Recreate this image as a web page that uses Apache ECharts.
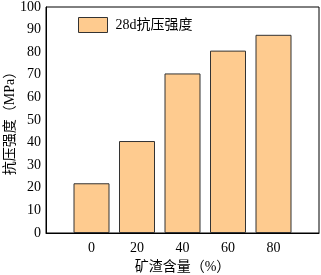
<!DOCTYPE html>
<html><head><meta charset="utf-8">
<script src="https://cdn.jsdelivr.net/npm/echarts@6/dist/echarts.min.js"></script>
<style>html,body{margin:0;padding:0;background:#fff}#c{width:321px;height:275px}</style>
</head><body><div id="c"></div>
<script>
const slagContent = [0, 20, 40, 60, 80];
const strength28d = [22, 40.7, 70.6, 80.7, 87.7];
const seriesName = '28d抗压强度';
const xTitle = '矿渣含量（%）';
const yTitle = '抗压强度（MPa）';
const fontFam = '"Liberation Serif", "Noto Sans CJK SC", serif';

const chart = echarts.init(document.getElementById('c'), null, {renderer: 'canvas'});
chart.setOption({
  animation: false,
  grid: {left: 46, right: 2, top: 7, bottom: 42, show: true, borderColor: '#000', borderWidth: 1,
    containLabel: false, outerBoundsMode: 'none'},
  legend: {
    left: 74, top: 17, itemWidth: 29, itemHeight: 15, padding: [0,0,0,4],
    textStyle: {fontFamily: fontFam, fontSize: 14, color: '#000', padding: [0,0,0,3]},
    data: [{name: seriesName, icon: 'rect', itemStyle: {color: '#FECB8F', borderColor: '#333', borderWidth: 1}}]
  },
  xAxis: {
    type: 'value', min: -20, max: 100, interval: 20,
    splitLine: {show: false},
    axisTick: {show: false},
    axisLine: {show: true, onZero: false, lineStyle: {color: '#000', width: 1}},
    axisLabel: {fontFamily: fontFam, fontSize: 14, color: '#000', margin: 8,
      formatter: v => (slagContent.indexOf(v) >= 0 ? String(v) : '')},
    name: xTitle, nameLocation: 'middle', nameGap: 27, nameMoveOverlap: false,
    nameTextStyle: {fontFamily: fontFam, fontSize: 14, color: '#000'}
  },
  yAxis: {
    type: 'value', min: 0, max: 100, interval: 10,
    splitLine: {show: false},
    axisTick: {show: false},
    axisLine: {show: true, onZero: false, lineStyle: {color: '#000', width: 1}},
    axisLabel: {fontFamily: fontFam, fontSize: 14, color: '#000', margin: 5},
    name: yTitle, nameLocation: 'middle', nameGap: 29, nameMoveOverlap: false,
    nameTextStyle: {fontFamily: fontFam, fontSize: 14, color: '#000'}
  },
  series: [{
    name: seriesName, type: 'bar', barWidth: 36,
    itemStyle: {color: '#FECB8F', borderColor: '#333', borderWidth: 1},
    data: slagContent.map((x, i) => [x, strength28d[i]])
  }]
});
</script></body></html>
